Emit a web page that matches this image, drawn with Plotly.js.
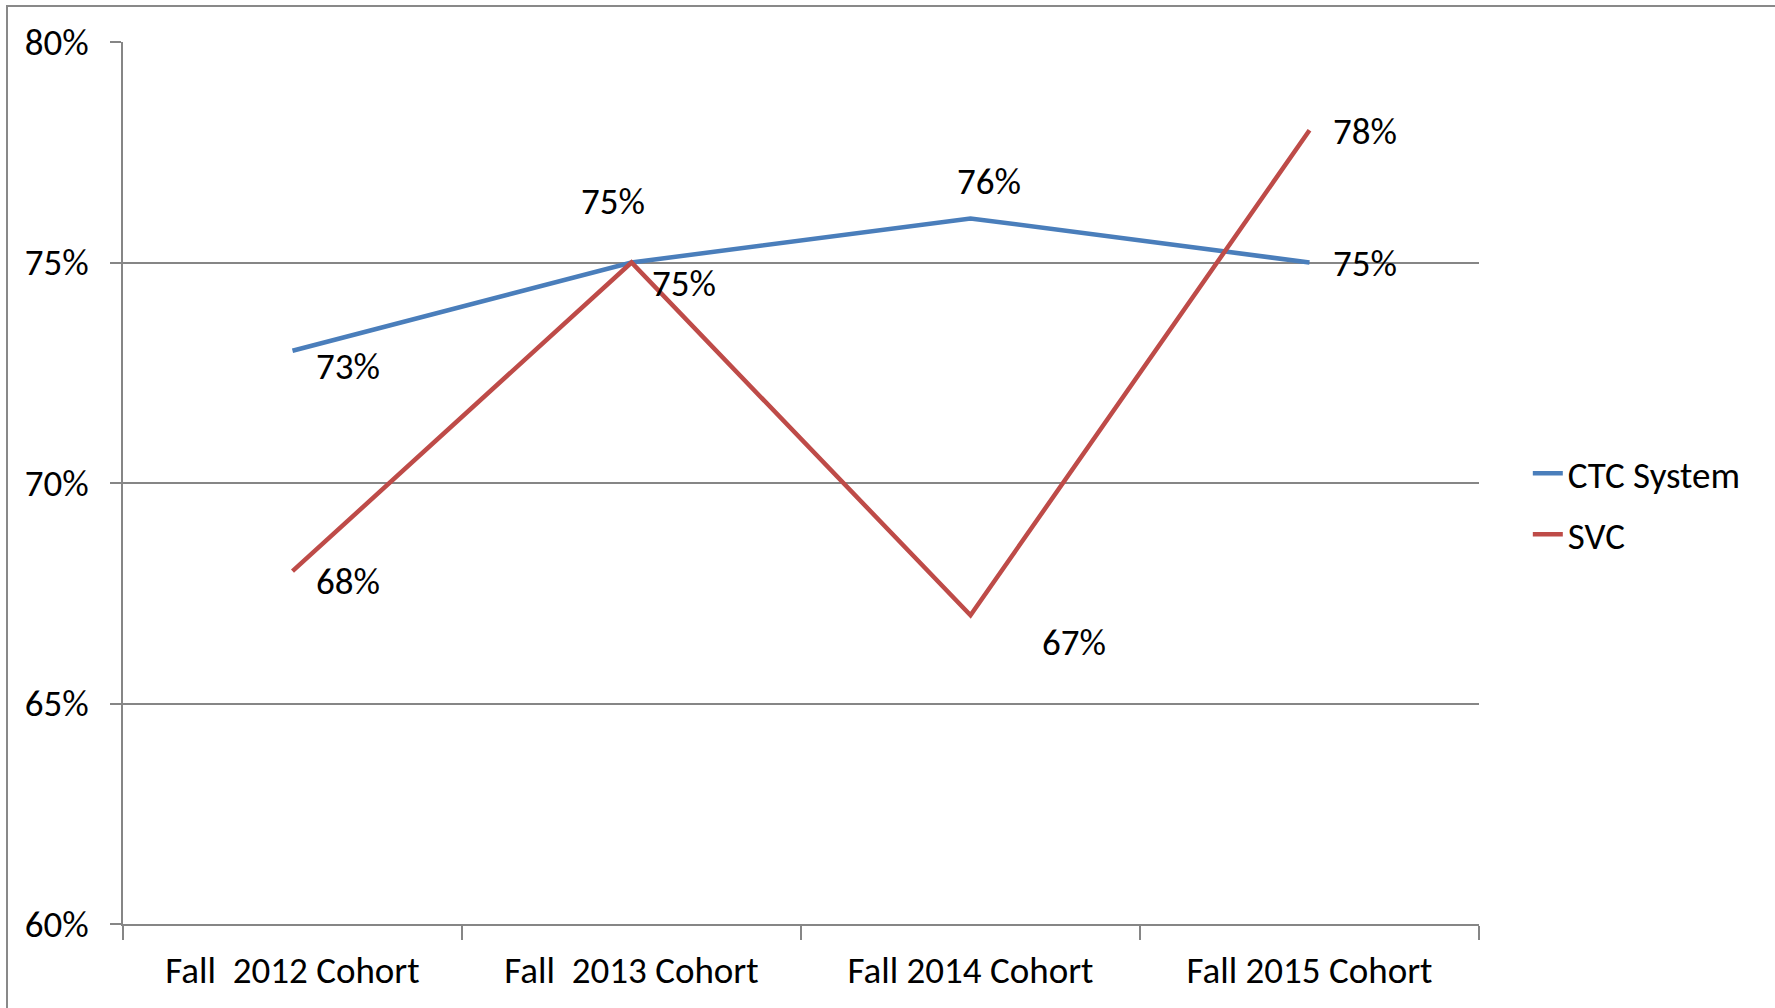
<!DOCTYPE html>
<html>
<head>
<meta charset="utf-8">
<script src="https://cdn.plot.ly/plotly-3.0.1.min.js"></script>
<style>
  html, body { margin: 0; padding: 0; background: #fff; }
  #wrap { position: relative; width: 1775px; height: 1008px; overflow: hidden; }
  #chart { position: absolute; left: 0; top: 0; width: 1775px; height: 1008px; }
  #frame { position: absolute; left: 6px; top: 5px; width: 1900px; height: 1100px;
           border: 2px solid #898989; pointer-events: none; }
</style>
</head>
<body>
<div id="wrap">
  <div id="chart"></div>
  <div id="frame"></div>
</div>
<script>
// ---- data ----
const categories = ["Fall  2012 Cohort", "Fall  2013 Cohort", "Fall 2014 Cohort", "Fall 2015 Cohort"];
const ctcSystem = [0.73, 0.75, 0.76, 0.75];
const svc = [0.68, 0.75, 0.67, 0.78];
const seriesNames = ["CTC System", "SVC"];
const yTickValues = [0.60, 0.65, 0.70, 0.75, 0.80];

// ---- styling / label placement (pixel offsets) ----
const FONT = "Carlito, Calibri, Lato, sans-serif";
const FS = 37;
const colors = ["#4A7EBB", "#BE4B48"];
const ctcLabelShift = [[55, -16], [-19, 61], [18, 37], [55, -1]];
const svcLabelShift = [[55, -10], [52, -21], [103, -27], [55, -1]];

const traces = [
  { x: categories, y: ctcSystem, name: seriesNames[0], type: "scatter", mode: "lines",
    line: { color: colors[0], width: 4.5 }, legendgroup: "a", hoverinfo: "skip" },
  { x: categories, y: svc, name: seriesNames[1], type: "scatter", mode: "lines",
    line: { color: colors[1], width: 4.5 }, legendgroup: "b", hoverinfo: "skip" }
];

function pct(v) { return Math.round(v * 100) + "%"; }
const annotations = [];
[[ctcSystem, ctcLabelShift], [svc, svcLabelShift]].forEach(([vals, shifts]) => {
  vals.forEach((v, i) => {
    annotations.push({
      x: categories[i], y: v, xref: "x", yref: "y", text: pct(v), showarrow: false,
      xshift: shifts[i][0], yshift: shifts[i][1],
      font: { family: FONT, size: FS, color: "#000" }
    });
  });
});

const layout = {
  width: 1775, height: 1008,
  margin: { l: 123, r: 296, t: 42, b: 84, pad: 0 },
  paper_bgcolor: "#fff", plot_bgcolor: "#fff",
  font: { family: FONT, size: FS, color: "#000" },
  showlegend: true,
  legend: { x: 1.036, y: 0.476, xanchor: "left", yanchor: "middle",
            font: { family: FONT, size: FS, color: "#000" },
            bgcolor: "rgba(0,0,0,0)", tracegroupgap: 10, traceorder: "grouped",
            itemwidth: 30 },
  xaxis: {
    type: "category", range: [-0.5, 3.5], showgrid: false, zeroline: false,
    showline: true, linecolor: "#868686", linewidth: 2,
    ticks: "outside", tickson: "boundaries", ticklen: 14, tickcolor: "#868686", tickwidth: 2,
    tickfont: { family: FONT, size: FS, color: "#000" }, ticklabelstandoff: 13,
    fixedrange: true
  },
  yaxis: {
    range: [0.60, 0.80], tickvals: yTickValues, ticktext: yTickValues.map(pct),
    showgrid: true, gridcolor: "#868686", gridwidth: 2, zeroline: false,
    showline: true, linecolor: "#868686", linewidth: 2,
    ticks: "outside", ticklen: 11, tickcolor: "#868686", tickwidth: 2,
    tickfont: { family: FONT, size: FS, color: "#000" }, ticklabelstandoff: 14,
    fixedrange: true
  },
  annotations: annotations
};

Plotly.newPlot("chart", traces, layout, { staticPlot: true, displayModeBar: false });
</script>
</body>
</html>
